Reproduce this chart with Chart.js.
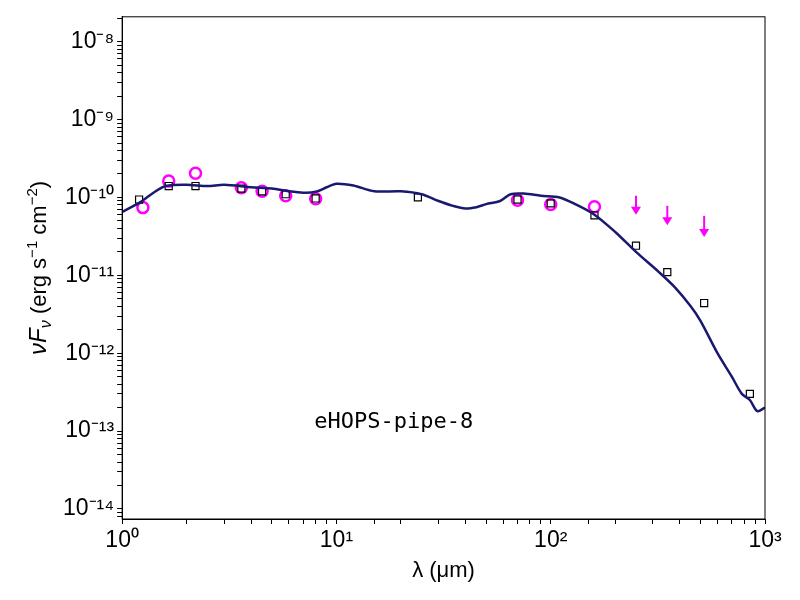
<!DOCTYPE html>
<html><head><script src="https://cdn.jsdelivr.net/npm/chart.js@4"></script>
<style>body{margin:0;background:#fff}</style></head>
<body><canvas id="c" width="800" height="600"></canvas>
<script>
const modelX=[1,1.2,1.4,1.6,2,2.5,3,4,5,6,7,8,9,10,12,15,20,25,30,35,40,45,50,58,65,75,90,110,130,160,200,250,320,380,450,500,600,700,780,850,920,1000];
const modelY=[6.5e-11,8.5e-11,1.15e-10,1.4e-10,1.45e-10,1.4e-10,1.45e-10,1.35e-10,1.3e-10,1.2e-10,1.15e-10,1.18e-10,1.35e-10,1.5e-10,1.42e-10,1.2e-10,1.2e-10,1.1e-10,9e-11,7.8e-11,7.2e-11,7.5e-11,8.2e-11,9e-11,1.1e-10,1.12e-10,1.05e-10,1e-10,8.2e-11,6e-11,3.6e-11,2e-11,1.1e-11,7e-12,4e-12,2.6e-12,1e-12,5e-13,3e-13,2.5e-13,1.8e-13,2e-13];
const sqX=[1.2,1.65,2.2,3.6,4.5,5.8,8,24,70,100,160,250,350,520,850];
const sqY=[9.4e-11,1.4e-10,1.4e-10,1.3e-10,1.2e-10,1.1e-10,9.7e-11,1e-10,9.4e-11,8.4e-11,5.9e-11,2.4e-11,1.1e-11,4.4e-12,3e-13];
const ciX=[1.25,1.65,2.2,3.6,4.5,5.8,8,70,100,160];
const ciY=[7.4e-11,1.62e-10,2.05e-10,1.33e-10,1.2e-10,1.05e-10,9.6e-11,9.2e-11,8.1e-11,7.6e-11];
const upX=[250,350,520];
const upTop=[1.05e-10,7.8e-11,5.8e-11];
const upTip=[6e-11,4.4e-11,3.1e-11];
const sup={'-':'⁻','0':'⁰','1':'¹','2':'²','3':'³','4':'⁴','5':'⁵','6':'⁶','7':'⁷','8':'⁸','9':'⁹'};
function lab(v){const e=Math.round(Math.log10(v));if(Math.abs(Math.log10(v)-e)>1e-6)return '';return '10'+String(e).split('').map(c=>sup[c]).join('');}
const arrows={id:'arrows',afterDatasetsDraw(ch){const c=ch.ctx,x=ch.scales.x,y=ch.scales.y,a=ch.chartArea;c.save();c.strokeStyle=c.fillStyle='#ff00ff';c.lineWidth=2;
for(let i=0;i<upX.length;i++){const px=x.getPixelForValue(upX[i]),p0=y.getPixelForValue(upTop[i]),p1=y.getPixelForValue(upTip[i]);
c.beginPath();c.moveTo(px,p0);c.lineTo(px,p1-6);c.stroke();c.beginPath();c.moveTo(px-5,p1-8);c.lineTo(px+5,p1-8);c.lineTo(px,p1);c.closePath();c.fill();}
c.fillStyle='#000';c.font='22px "DejaVu Sans Mono"';c.textAlign='center';c.textBaseline='middle';c.fillText('eHOPS-pipe-8',x.getPixelForValue(18.5),y.getPixelForValue(1.3e-13));
c.strokeStyle='#000';c.lineWidth=1;c.strokeRect(a.left,a.top,a.right-a.left,a.bottom-a.top);
c.translate(38,(a.top+a.bottom)/2);c.rotate(-Math.PI/2);c.textAlign='left';c.textBaseline='alphabetic';
const parts=[['ν',24,0,'italic '],['F',24,0,'italic '],['ν',16,5,'italic '],[' (erg s',22,0,''],['−1',15,-9,''],[' cm',22,0,''],['−2',15,-9,''],[')',22,0,'']];
let w=0;parts.forEach(p=>{c.font=p[3]+p[1]+'px "Liberation Sans"';w+=c.measureText(p[0]).width;});
let cx=-w/2;parts.forEach(p=>{c.font=p[3]+p[1]+'px "Liberation Sans"';c.fillText(p[0],cx,8+p[2]);cx+=c.measureText(p[0]).width;});
c.restore();}};
new Chart(document.getElementById('c'),{type:'scatter',
data:{datasets:[
{type:'line',data:modelX.map((v,i)=>({x:v,y:modelY[i]})),borderColor:'#191970',borderWidth:2.5,pointRadius:0,tension:0.3},
{data:sqX.map((v,i)=>({x:v,y:sqY[i]})),pointStyle:'rect',pointRadius:5,borderColor:'#000',borderWidth:1.2,backgroundColor:'rgba(0,0,0,0)'},
{data:ciX.map((v,i)=>({x:v,y:ciY[i]})),pointStyle:'circle',pointRadius:5.5,borderColor:'#ff00ff',borderWidth:2.5,backgroundColor:'rgba(0,0,0,0)'}
]},
options:{animation:false,responsive:false,devicePixelRatio:1,layout:{padding:{top:15,right:35,bottom:16,left:60}},
plugins:{legend:{display:false},tooltip:{enabled:false}},
scales:{
x:{type:'logarithmic',min:1,max:1000,grid:{drawOnChartArea:false,tickColor:'#000',tickLength:5},border:{color:'#000'},
ticks:{autoSkip:false,color:'#000',font:{family:'Liberation Sans',size:23},maxRotation:0,callback:v=>lab(v)},
title:{display:true,text:'λ (μm)',color:'#000',font:{family:'Liberation Sans',size:22},padding:0}},
y:{type:'logarithmic',min:10**-14.13,max:10**-7.68,grid:{drawOnChartArea:false,tickColor:'#000',tickLength:5},border:{color:'#000'},
afterBuildTicks:s=>{const t=[];for(let e=-15;e<=-7;e++)for(let m=1;m<10;m++){const v=m*10**e;if(v>=s.min&&v<=s.max)t.push({value:v});}s.ticks=t;},
ticks:{autoSkip:false,color:'#000',font:{family:'Liberation Sans',size:23},callback:v=>lab(v)},
title:{display:false}}
}},plugins:[arrows]});
</script></body></html>
